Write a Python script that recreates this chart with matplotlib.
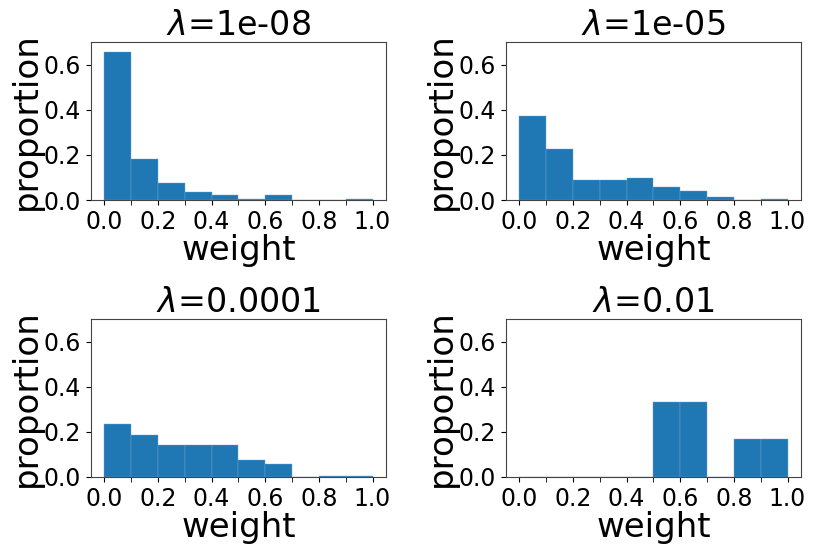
import matplotlib
matplotlib.use('Agg')
import matplotlib.pyplot as plt
import numpy as np

# bin edges (10 bins on [0, 1]) and proportion per bin for each lambda
bin_edges = np.linspace(0.0, 1.0, 11)
titles = [r'$\lambda$=1e-08', r'$\lambda$=1e-05', r'$\lambda$=0.0001', r'$\lambda$=0.01']
prop_1e8 = [0.655, 0.180, 0.074, 0.035, 0.021, 0.003, 0.021, 0.0, 0.0, 0.006]
prop_1e5 = [0.371, 0.228, 0.090, 0.090, 0.100, 0.056, 0.040, 0.015, 0.0, 0.004]
prop_1e4 = [0.233, 0.187, 0.142, 0.142, 0.142, 0.074, 0.059, 0.0, 0.006, 0.006]
prop_1e2 = [0.0, 0.0, 0.0, 0.0, 0.0, 0.333, 0.333, 0.0, 0.167, 0.167]
all_props = [prop_1e8, prop_1e5, prop_1e4, prop_1e2]

xticks = [0.0, 0.2, 0.4, 0.6, 0.8, 1.0]

fig, axes = plt.subplots(2, 2, figsize=(8.3, 5.54), dpi=100)
plt.subplots_adjust(left=0.1096, right=0.965, top=0.924, bottom=0.139,
                    wspace=0.407, hspace=0.753)

centers = (bin_edges[:-1] + bin_edges[1:]) / 2
for ax, t, p in zip(axes.flat, titles, all_props):
    ax.hist(centers, bins=bin_edges, weights=p, color='#1f77b4',
            edgecolor='#6fa6d6', linewidth=0.3)
    ax.set_ylim(0, 0.7)
    ax.set_xticks(xticks)
    ax.set_xticks(bin_edges[1::2], minor=True)
    ax.tick_params(axis='both', which='both', labelsize=17, length=3.5)
    ax.set_yticks([0.0, 0.2, 0.4, 0.6])
    ax.set_title(t, fontsize=24, pad=3)
    ax.set_xlabel('weight', fontsize=24.5, labelpad=0)
    ax.set_ylabel('proportion', fontsize=24.5, labelpad=1)
    for s in ax.spines.values():
        s.set_color('#444444')

fig.savefig('out.png', dpi=100)
